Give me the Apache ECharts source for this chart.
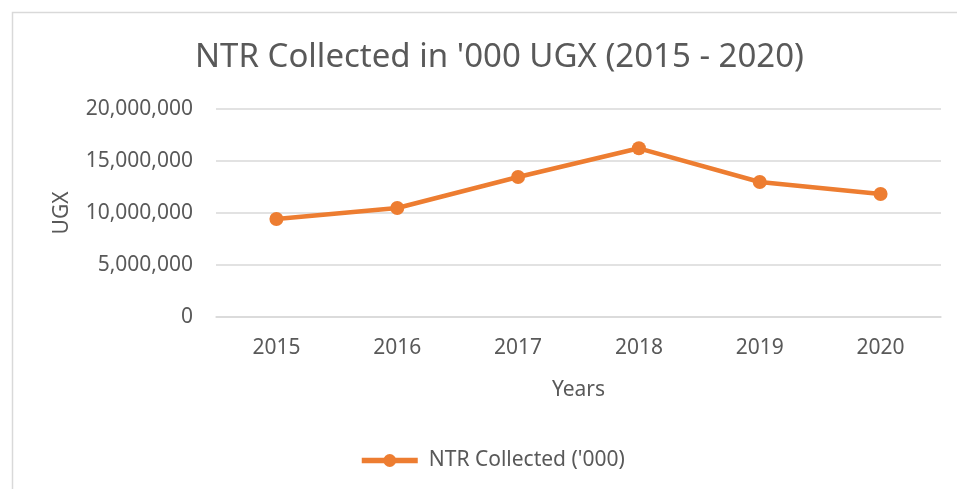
<!DOCTYPE html>
<html>
<head>
<meta charset="utf-8">
<script src="https://cdn.jsdelivr.net/npm/echarts@6/dist/echarts.min.js"></script>
<style>
  html, body { margin: 0; padding: 0; background: #fff; }
  #chart { width: 957px; height: 489px; }
</style>
</head>
<body>
<div id="chart"></div>
<script>
// data
var years = ["2015", "2016", "2017", "2018", "2019", "2020"];
var ntrCollected = [9420000, 10480000, 13460000, 16220000, 12980000, 11830000];
var yTicks = [0, 5000000, 10000000, 15000000, 20000000];

(function () {
  var myChart = echarts.init(document.getElementById('chart'));
  var textColor = '#595959';
  var font = '"Noto Sans", "Open Sans", sans-serif';

  var option = {
    backgroundColor: '#fff',
    animation: false,
    // outer frame of the chart
    graphic: [{
      type: 'rect',
      left: 10,
      top: 10,
      shape: { width: 960, height: 500 },
      style: { fill: 'none', stroke: '#d9d9d9', lineWidth: 1.5 },
      silent: true
    }],
    title: {
      text: "NTR Collected in '000 UGX (2015 - 2020)",
      left: 190,
      top: 36,
      textStyle: {
        color: textColor,
        fontFamily: font,
        fontSize: 33,
        fontWeight: 'normal'
      }
    },
    legend: {
      left: 354,
      top: 445,
      itemWidth: 56,
      itemHeight: 16,
      itemGap: 10,
      lineStyle: { width: 5.5 },
      textStyle: { color: textColor, fontFamily: font, fontSize: 21, padding: [0, 0, 0, 6] },
      data: ["NTR Collected ('000)"]
    },
    grid: {
      left: 216,
      right: 16,
      top: 109,
      bottom: 172,
      containLabel: false
    },
    xAxis: {
      type: 'category',
      data: years,
      boundaryGap: true,
      name: 'Years',
      nameLocation: 'middle',
      nameGap: 63,
      nameTextStyle: { color: textColor, fontFamily: font, fontSize: 21 },
      axisTick: { show: false },
      axisLine: { show: true, lineStyle: { color: '#d9d9d9', width: 1.5 } },
      axisLabel: { color: textColor, fontFamily: font, fontSize: 21, margin: 21 }
    },
    yAxis: {
      type: 'value',
      min: yTicks[0],
      max: yTicks[yTicks.length - 1],
      interval: yTicks[1] - yTicks[0],
      name: 'UGX',
      nameLocation: 'middle',
      nameGap: 143,
      nameRotate: 90,
      nameTextStyle: { color: textColor, fontFamily: font, fontSize: 21 },
      axisLine: { show: false },
      axisTick: { show: false },
      splitLine: { lineStyle: { color: '#d9d9d9', width: 1.5 } },
      axisLabel: {
        color: textColor,
        fontFamily: font,
        fontSize: 21,
        margin: 23,
        formatter: function (v) {
          return v.toString().replace(/\B(?=(\d{3})+(?!\d))/g, ',');
        }
      }
    },
    series: [{
      name: "NTR Collected ('000)",
      type: 'line',
      data: ntrCollected,
      symbol: 'circle',
      symbolSize: 14,
      itemStyle: { color: '#ED7D31' },
      lineStyle: { color: '#ED7D31', width: 4.5 }
    }]
  };

  myChart.setOption(option);
  window.addEventListener('resize', function () {
    myChart.resize();
  });
})();
</script>
</body>
</html>
